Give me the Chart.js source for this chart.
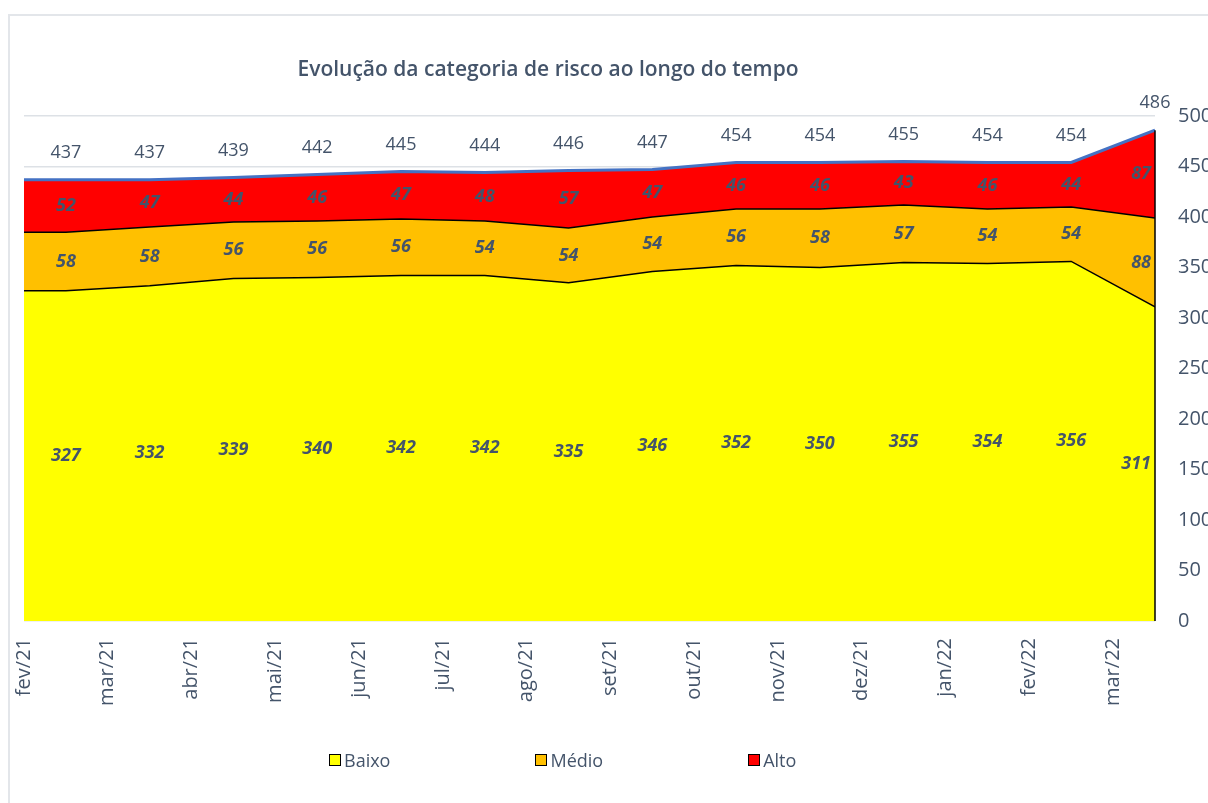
<!DOCTYPE html>
<html lang="pt-BR">
<head>
<meta charset="utf-8">
<title>Evolução da categoria de risco</title>
<script src="https://cdn.jsdelivr.net/npm/chart.js@4.4.1/dist/chart.umd.min.js"></script>
<style>
    html, body { margin: 0; padding: 0; background: #fff; overflow: hidden; }
    .wrap { position: relative; width: 1208px; height: 803px; font-family: 'Open Sans', sans-serif; }
    .frame { position: absolute; left: 8px; top: 14px; width: 1300px; height: 900px; border: 2px solid #e3e6ea; }
    #riscoChart { position: absolute; left: 0; top: 0; }
    .titulo {
        position: absolute; left: 0; width: 1096px; top: 54px; text-align: center;
        font-size: 21px; font-weight: 600; color: #44546a;
    }
    .legenda { position: absolute; top: 748px; left: 329px; display: flex; }
    .legenda__item { display: flex; align-items: center; font-size: 18px; color: #44546a; margin-right: 145px; }
    .legenda__box { width: 10px; height: 10px; border: 1.5px solid #000; margin-right: 3px; }
</style>
</head>
<body>
<div class="wrap">
    <div class="frame"></div>
    <canvas id="riscoChart" width="1208" height="803"></canvas>
    <div class="titulo">Evolução da categoria de risco ao longo do tempo</div>
    <div class="legenda" id="legenda"></div>
</div>
<script>
/* Evolução da categoria de risco — stacked area (Baixo / Médio / Alto) + total */

const MONTHS = ['fev/21', 'mar/21', 'abr/21', 'mai/21', 'jun/21', 'jul/21', 'ago/21',
                'set/21', 'out/21', 'nov/21', 'dez/21', 'jan/22', 'fev/22', 'mar/22'];
const BAIXO = [327, 332, 339, 340, 342, 342, 335, 346, 352, 350, 355, 354, 356, 311];
const MEDIO = [58, 58, 56, 56, 56, 54, 54, 54, 56, 58, 57, 54, 54, 88];
const ALTO  = [52, 47, 44, 46, 47, 48, 57, 47, 46, 46, 43, 46, 44, 87];
const TOTAL = [437, 437, 439, 442, 445, 444, 446, 447, 454, 454, 455, 454, 454, 486];
const Y_TICKS = [0, 50, 100, 150, 200, 250, 300, 350, 400, 450, 500];

const TEXT = '#44546a';
const FONT = "'Open Sans', sans-serif";

// Excel draws the area from the left edge of the first band with the first value
const toPoints = (arr) => [{ x: -0.5, y: arr[0] }].concat(arr.map((y, i) => ({ x: i, y })));

const SERIES = [
    { label: 'Baixo', data: BAIXO, color: '#ffff00' },
    { label: 'Médio', data: MEDIO, color: '#ffc000' },
    { label: 'Alto',  data: ALTO,  color: '#ff0000' },
];

// data labels + right edge
const labelsPlugin = {
    id: 'rotulos',
    afterDatasetsDraw(chart) {
        const { ctx, scales: { x, y } } = chart;
        const last = MONTHS.length - 1;
        ctx.save();

        // right edge of the stacked area
        ctx.strokeStyle = '#000';
        ctx.lineWidth = 1.5;
        ctx.beginPath();
        ctx.moveTo(x.getPixelForValue(last), y.getPixelForValue(0));
        ctx.lineTo(x.getPixelForValue(last), y.getPixelForValue(TOTAL[last]));
        ctx.stroke();

        // values inside each band
        ctx.fillStyle = TEXT;
        ctx.font = `italic bold 18px ${FONT}`;
        ctx.textBaseline = 'middle';
        MONTHS.forEach((m, i) => {
            let base = 0;
            SERIES.forEach(s => {
                const v = s.data[i];
                const px = x.getPixelForValue(i);
                const py = y.getPixelForValue(base + v / 2);
                ctx.textAlign = i === last ? 'right' : 'center';
                ctx.fillText(String(v), i === last ? px - 4 : px, py);
                base += v;
            });
        });

        // totals above the blue line
        ctx.font = `18px ${FONT}`;
        ctx.textAlign = 'center';
        TOTAL.forEach((t, i) => {
            ctx.fillText(String(t), x.getPixelForValue(i), y.getPixelForValue(t) - 27);
        });
        ctx.restore();
    }
};

const datasets = SERIES.map((s, i) => ({
    label: s.label,
    data: toPoints(s.data),
    backgroundColor: s.color,
    borderColor: '#000',
    borderWidth: i === 2 ? 0 : 1.5,
    fill: i === 0 ? 'origin' : '-1',
    pointRadius: 0,
    tension: 0,
    stack: 'risco',
    order: 2,
}));

datasets.push({
    label: 'Total',
    data: toPoints(TOTAL),
    borderColor: '#4472c4',
    borderWidth: 3,
    fill: false,
    pointRadius: 0,
    tension: 0,
    stack: 'total',
    order: 1,
});

new Chart(document.getElementById('riscoChart'), {
    type: 'line',
    data: { datasets },
    options: {
        responsive: false,
        animation: false,
        layout: { padding: { left: 24, top: 116, right: 0, bottom: 0 } },
        plugins: {
            legend: { display: false },
            title: { display: false },
            tooltip: { enabled: false },
        },
        scales: {
            x: {
                type: 'linear',
                min: -0.5,
                max: MONTHS.length - 1,
                grid: { display: false },
                border: { display: false },
                afterBuildTicks: (scale) => {
                    scale.ticks = MONTHS.map((m, i) => ({ value: i - 0.5 }));
                },
                afterFit: (scale) => { scale.height = 182; },
                ticks: {
                    autoSkip: false,
                    minRotation: 90,
                    maxRotation: 90,
                    padding: 9,
                    color: TEXT,
                    font: { size: 20, family: FONT },
                    callback: (value) => MONTHS[Math.round(value + 0.5)],
                },
            },
            y: {
                position: 'right',
                stacked: true,
                min: 0,
                max: 500,
                afterBuildTicks: (scale) => {
                    scale.ticks = Y_TICKS.map(v => ({ value: v }));
                },
                afterFit: (scale) => { scale.width = 53; },
                grid: { color: '#dde1e6', lineWidth: 1.5, drawTicks: false },
                border: { display: false },
                ticks: {
                    padding: 23,
                    color: TEXT,
                    font: { size: 20, family: FONT },
                },
            },
        },
    },
    plugins: [labelsPlugin],
});

// legend (Excel spreads the entries widely)
const legenda = document.getElementById('legenda');
SERIES.forEach(s => {
    const item = document.createElement('div');
    item.className = 'legenda__item';
    item.innerHTML = `<span class="legenda__box" style="background:${s.color}"></span>${s.label}`;
    legenda.appendChild(item);
});
</script>
</body>
</html>
